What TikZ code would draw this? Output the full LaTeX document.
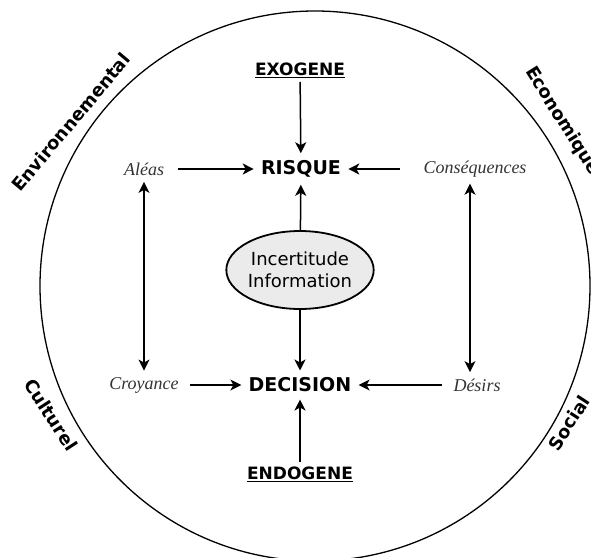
\documentclass[tikz,border=0pt]{standalone}
\usepackage{fontspec}
\setmainfont{Liberation Serif}
\setsansfont{DejaVu Sans}
\usepackage{tikz}
\usetikzlibrary{calc}
\usetikzlibrary{shapes}
\usetikzlibrary{arrows.meta}

\begin{document}
\begin{tikzpicture}[x=1pt, y=-1pt,
    pole/.style={font=\sffamily\bfseries\fontsize{19}{21}\selectfont, outer sep=4pt},
    origin/.style={font=\sffamily\bfseries\fontsize{17}{19}\selectfont, outer sep=1pt},
    factor/.style={font=\itshape\fontsize{18}{20}\selectfont, text=black!80},
    sphere/.style={font=\sffamily\bfseries\fontsize{18}{20}\selectfont},
    link/.style={line width=1.5pt, -{Stealth[length=11pt, width=11pt, inset=3pt]}},
    both/.style={line width=1.5pt, {Stealth[length=11pt, width=11pt, inset=3pt]}-{Stealth[length=11pt, width=11pt, inset=3pt]}}]
  \useasboundingbox (0,0) rectangle (591,557);
  % outer world
  \draw[line width=1.3pt] (315,286) circle [radius=275pt];
  \node[sphere, rotate=50]  (env)   at (71,122)  {Environnemental};
  \node[sphere, rotate=-58] (eco)   at (562,121) {Economique};
  \node[sphere, rotate=-57] (cult)  at (51,415)  {Culturel};
  \node[sphere, rotate=57]  (soc)   at (569,423) {Social};
  % centre
  \node[origin] (exo) at (300,70) {\underline{EXOGENE}};
  \node[pole] (risque) at (301,169) {RISQUE};
  \node[draw, ellipse, line width=1.8pt, fill=black!8, minimum width=146pt, minimum height=78pt,
        inner sep=0pt, align=center, font=\sffamily\fontsize{18}{22}\selectfont] (incert) at (300,270)
        {Incertitude\\Information};
  \node[pole] (decision) at (300,385) {DECISION};
  \node[origin] (endo) at (300,474) {\underline{ENDOGENE}};
  \node[factor] (aleas) at (144,169) {Aléas};
  \node[factor] (conseq) at (475,169) {Conséquences};
  \node[factor] (croyance) at (144,385) {Croyance};
  \node[factor] (desirs) at (477,385) {Désirs};
  % arrows
  \draw[link, shorten <=10pt] (aleas) -- (risque);
  \draw[link, shorten <=20pt] (conseq) -- (risque);
  \draw[link] (exo) -- (risque);
  \draw[link] (incert) -- (risque);
  \draw[link] (incert) -- (decision);
  \draw[link, shorten <=8pt] (croyance) -- (decision);
  \draw[link, shorten <=8pt] (desirs) -- (decision);
  \draw[link] (endo) -- (decision);
  \draw[both, shorten <=3pt, shorten >=3pt] (aleas) -- (croyance);
  \draw[both, shorten <=3pt, shorten >=3pt] ($(conseq.south)+(-5,0)$) -- ($(conseq.south |- desirs.north)+(-5,0)$);
\end{tikzpicture}
\end{document}
